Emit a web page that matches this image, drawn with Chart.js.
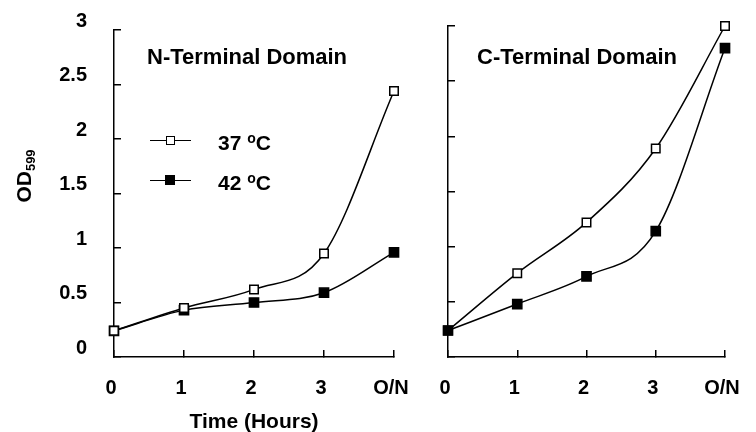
<!DOCTYPE html>
<html>
<head>
<meta charset="utf-8">
<script src="https://cdn.jsdelivr.net/npm/chart.js@4.4.1/dist/chart.umd.min.js"></script>
<style>
  body { margin: 0; background: #fff; width: 756px; height: 432px; position: relative; overflow: hidden;
         font-family: "Liberation Sans", Arial, sans-serif; font-weight: bold; color: #000; }
  canvas { position: absolute; top: 0; }
  #leftChart { left: 0; }
  #rightChart { left: 420px; }
  .lbl { position: absolute; white-space: nowrap; line-height: 1; }
  .panelTitle { font-size: 22px; transform: translateY(-50%); }
  #od { left: 25px; top: 176px; font-size: 21px; transform: translate(-50%, -50%) rotate(-90deg); }
  #od sub { font-size: 13px; vertical-align: -4px; }
  .legLine { position: absolute; height: 1.5px; background: #000; width: 41px; left: 150px; }
  .legBox { position: absolute; box-sizing: border-box; border: 1.5px solid #000; }
  .legText { font-size: 21px; left: 218px; transform: translateY(-50%); }
  .legText sup { font-size: 14px; vertical-align: 7px; }
</style>
</head>
<body>
<canvas id="leftChart" width="420" height="432"></canvas>
<canvas id="rightChart" width="336" height="432"></canvas>

<div class="lbl panelTitle" style="left:147px; top:57px;">N-Terminal Domain</div>
<div class="lbl panelTitle" style="left:477px; top:57px;">C-Terminal Domain</div>
<div class="lbl" id="od">OD<sub>599</sub></div>

<div class="legLine" style="top:139.5px;"></div>
<div class="legBox" style="left:165.5px; top:135.5px; width:9px; height:9px; background:#fff;"></div>
<div class="lbl legText" style="top:142px;">37 <sup>o</sup>C</div>
<div class="legLine" style="top:179.5px;"></div>
<div class="legBox" style="left:165px; top:175px; width:10px; height:10px; background:#000;"></div>
<div class="lbl legText" style="top:182px;">42 <sup>o</sup>C</div>

<script>
// ==================== DATA ====================
const timeLabels = ['0', '1', '2', '3', 'O/N'];
const yTickLabels = ['0', '0.5', '1', '1.5', '2', '2.5', '3'];
const seriesNames = ['37 °C', '42 °C'];

// N-terminal domain
const nTerm37 = [0.24, 0.45, 0.62, 0.95, 2.44];
const nTerm42 = [0.24, 0.43, 0.50, 0.59, 0.96];
// C-terminal domain
const cTerm37 = [0.24, 0.76, 1.22, 1.89, 3.00];
const cTerm42 = [0.24, 0.48, 0.73, 1.14, 2.80];

// ==================== HELPERS ====================
const tickFont = { family: '"Liberation Sans", Arial, sans-serif', size: 20, weight: 'bold' };

function makeDataset(label, data, filled, order) {
    return {
        label: label,
        data: data,
        borderColor: '#000',
        borderWidth: 1.5,
        cubicInterpolationMode: 'monotone',
        pointStyle: 'rect',
        pointRadius: filled ? 6.5 : 6,
        pointBorderWidth: 1.5,
        pointBorderColor: '#000',
        pointBackgroundColor: filled ? '#000' : '#fff',
        clip: false,
        order: order
    };
}

function makeOptions(cfg) {
    return {
        responsive: false,
        animation: false,
        events: [],
        layout: { padding: { left: 0, right: cfg.padRight, top: cfg.padTop, bottom: 0 } },
        plugins: { legend: { display: false }, tooltip: { enabled: false } },
        scales: {
            x: {
                type: 'category',
                grid: { drawOnChartArea: false, drawTicks: true, tickLength: -7, color: '#000', lineWidth: 1.5 },
                border: { color: '#000', width: 1.5 },
                ticks: { font: tickFont, color: '#000', padding: 26, labelOffset: -3, maxRotation: 0, autoSkip: false },
                title: {
                    display: cfg.xTitle !== '',
                    text: cfg.xTitle,
                    color: '#000',
                    font: { family: '"Liberation Sans", Arial, sans-serif', size: 21, weight: 'bold' },
                    padding: { top: 0, bottom: -3 }
                },
                afterFit: (s) => { s.height = 75; s.paddingLeft = 0; s.paddingRight = 0; }
            },
            y: {
                min: 0,
                max: 3,
                grid: { drawOnChartArea: false, drawTicks: true, tickLength: -7, color: '#000', lineWidth: 1.5 },
                border: { color: '#000', width: 1.5 },
                ticks: {
                    display: cfg.yLabels,
                    stepSize: 0.5,
                    font: tickFont,
                    color: '#000',
                    padding: 34,
                    labelOffset: -9,
                    callback: (v) => yTickLabels[Math.round(v / 0.5)]
                },
                afterFit: (s) => { s.width = cfg.yWidth; s.paddingTop = 0; s.paddingBottom = 0; }
            }
        }
    };
}

// ==================== CHARTS ====================
new Chart(document.getElementById('leftChart').getContext('2d'), {
    type: 'line',
    data: {
        labels: timeLabels,
        datasets: [
            makeDataset(seriesNames[0], nTerm37, false, 1),
            makeDataset(seriesNames[1], nTerm42, true, 2)
        ]
    },
    options: makeOptions({ padRight: 26, padTop: 30, yWidth: 114, yLabels: true, xTitle: 'Time (Hours)' })
});

new Chart(document.getElementById('rightChart').getContext('2d'), {
    type: 'line',
    data: {
        labels: timeLabels,
        datasets: [
            makeDataset(seriesNames[0], cTerm37, false, 2),
            makeDataset(seriesNames[1], cTerm42, true, 1)
        ]
    },
    options: makeOptions({ padRight: 31, padTop: 26, yWidth: 28, yLabels: false, xTitle: '' })
});
</script>
</body>
</html>
